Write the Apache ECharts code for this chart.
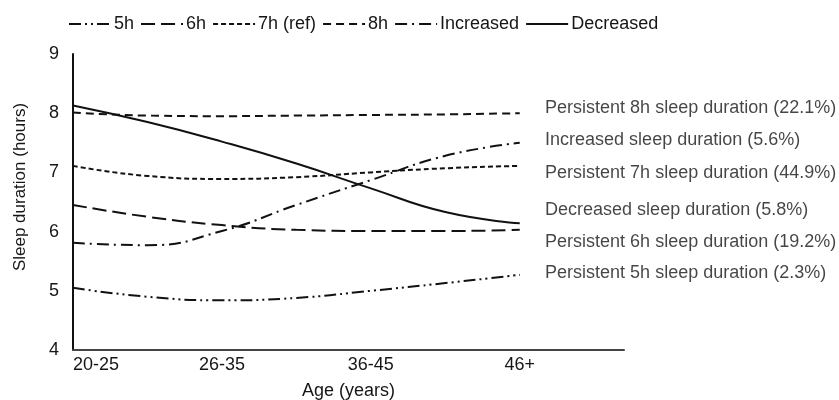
<!DOCTYPE html>
<html>
<head>
<meta charset="utf-8">
<script src="https://cdn.jsdelivr.net/npm/echarts@6/dist/echarts.min.js"></script>
<style>
html,body{margin:0;padding:0;background:#fff;}
#chart{width:839px;height:400px;}
</style>
</head>
<body>
<div id="chart"></div>
<script>
// Age categories (tick labels) and sample positions along the age axis
var ageLabels = ['20-25', '26-35', '36-45', '46+'];
var ageTicks = [0, 1, 2, 3];
var sampleX = [0, 0.5, 1, 1.5, 2, 2.5, 3];

// Sleep duration trajectories (hours)
var series5h        = [5.05, 4.90, 4.84, 4.88, 5.00, 5.13, 5.27];
var series6h        = [6.45, 6.25, 6.11, 6.03, 6.01, 6.01, 6.03];
var series7h        = [7.11, 6.94, 6.89, 6.92, 7.00, 7.07, 7.11];
var series8h        = [8.01, 7.96, 7.95, 7.96, 7.97, 7.98, 8.00];
var seriesIncreased = [5.81, 5.77, 6.01, 6.45, 6.87, 7.28, 7.50];
var seriesDecreased = [8.13, 7.85, 7.52, 7.15, 6.73, 6.33, 6.14];

// Right-side annotations
var annotationTexts = [
  'Persistent 8h sleep duration (22.1%)',
  'Increased sleep duration (5.6%)',
  'Persistent 7h sleep duration (44.9%)',
  'Decreased sleep duration (5.8%)',
  'Persistent 6h sleep duration (19.2%)',
  'Persistent 5h sleep duration (2.3%)'
];
var annotationY = [8.09, 7.55, 6.99, 6.36, 5.82, 5.30];
var annotationX = 3.17;

var FONT = 'Liberation Sans, Arial, sans-serif';
var TXT = '#161616';

function pairs(ys) { return ys.map(function (y, i) { return [sampleX[i], y]; }); }

function lineSeries(name, ys, dash) {
  return {
    name: name,
    type: 'line',
    data: pairs(ys),
    smooth: 0.5,
    symbol: 'none',
    lineStyle: { color: '#111', width: 2, type: dash },
    itemStyle: { color: '#111' },
    emphasis: { disabled: true },
    z: 3
  };
}

var chart = echarts.init(document.getElementById('chart'), null, { renderer: 'canvas' });
chart.setOption({
  animation: false,
  backgroundColor: '#fff',
  textStyle: { fontFamily: FONT, color: TXT },
  legend: {
    left: 63,
    top: 10,
    itemWidth: 42,
    itemHeight: 12,
    itemGap: 6,
    itemStyle: { color: 'rgba(0,0,0,0)', borderWidth: 0, opacity: 0 },
    textStyle: { fontFamily: FONT, fontSize: 18, color: TXT, padding: [0, 0, 0, -2] },
    data: ['5h', '6h', '7h (ref)', '8h', 'Increased', 'Decreased']
  },
  grid: { left: 73, top: 54, bottom: 50, right: 215, containLabel: false, outerBoundsMode: 'none' },
  xAxis: {
    type: 'value',
    min: 0,
    max: 3.7,
    name: 'Age (years)',
    nameLocation: 'middle',
    nameGap: 32,
    nameTextStyle: { fontFamily: FONT, fontSize: 18, color: TXT },
    axisLine: { show: true, lineStyle: { color: '#444', width: 2 } },
    axisTick: { show: false },
    splitLine: { show: false },
    axisLabel: {
      customValues: ageTicks,
      alignMinLabel: 'left',
      margin: 6,
      fontFamily: FONT, fontSize: 18, color: TXT,
      formatter: function (v) { return ageLabels[Math.round(v)]; }
    }
  },
  yAxis: {
    type: 'value',
    min: 4,
    max: 9,
    interval: 1,
    name: 'Sleep duration (hours)',
    nameLocation: 'middle',
    nameGap: 44,
    nameTextStyle: { fontFamily: FONT, fontSize: 17, color: TXT, padding: [0, 0, 0, 30] },
    axisLine: { show: true, lineStyle: { color: '#111', width: 2 } },
    axisTick: { show: false },
    splitLine: { show: false },
    axisLabel: { margin: 14, fontFamily: FONT, fontSize: 18, color: TXT }
  },
  series: [
    lineSeries('5h', series5h, [12, 4, 2, 4, 2, 4]),
    lineSeries('6h', series6h, [14, 6]),
    lineSeries('7h (ref)', series7h, [5, 3]),
    lineSeries('8h', series8h, [8, 5]),
    lineSeries('Increased', seriesIncreased, [12, 5, 2, 5]),
    lineSeries('Decreased', seriesDecreased, 'solid'),
    {
      name: 'annotations',
      type: 'scatter',
      symbolSize: 0,
      silent: true,
      clip: false,
      data: annotationY.map(function (y, i) { return { value: [annotationX, y], name: annotationTexts[i] }; }),
      label: {
        show: true,
        position: 'right',
        distance: 0,
        formatter: function (p) { return p.name; },
        fontFamily: FONT, fontSize: 18, color: TXT
      }
    }
  ]
});
</script>
</body>
</html>
